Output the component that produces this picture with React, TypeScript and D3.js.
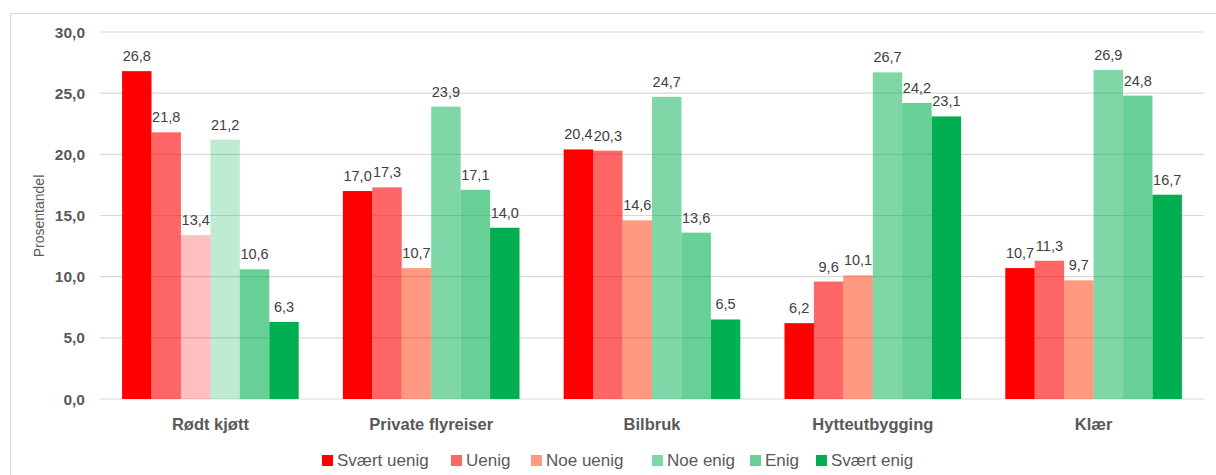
import React from "react";
import * as d3 from "d3";

const categories = ["Rødt kjøtt", "Private flyreiser", "Bilbruk", "Hytteutbygging", "Klær"];
const seriesNames = ["Svært uenig", "Uenig", "Noe uenig", "Noe enig", "Enig", "Svært enig"];
const svaertUenig = [26.8, 17.0, 20.4, 6.2, 10.7];
const uenig = [21.8, 17.3, 20.3, 9.6, 11.3];
const noeUenig = [13.4, 10.7, 14.6, 10.1, 9.7];
const noeEnig = [21.2, 23.9, 24.7, 26.7, 26.9];
const enig = [10.6, 17.1, 13.6, 24.2, 24.8];
const svaertEnig = [6.3, 14.0, 6.5, 23.1, 16.7];
const seriesValues = [svaertUenig, uenig, noeUenig, noeEnig, enig, svaertEnig];
const yTicks = [0, 5, 10, 15, 20, 25, 30];

// styles
const baseColors = ["#FF0000", "#FF0000", "#FF3300", "#00B050", "#00B050", "#00B050"];
const baseOpacity = [1, 0.6, 0.5, 0.5, 0.6, 1];
const firstCatColors = ["#FF0000", "#FF0000", "#FF0000", "#00B050", "#00B050", "#00B050"];
const firstCatOpacity = [1, 0.6, 0.25, 0.25, 0.6, 1];

const W = 1216;
const H = 475;
const FONT = "'Liberation Sans', Arial, sans-serif";

export default function App() {
  const x0 = d3.scaleBand<string>().domain(categories).range([100, 1204]).paddingInner(0.2).paddingOuter(0.1);
  const x1 = d3.scaleBand<string>().domain(seriesNames).range([0, x0.bandwidth()]).padding(0);
  const y = d3.scaleLinear().domain([0, 30]).range([399, 32]);
  const fmt = (v: number) => d3.format(".1f")(v).replace(".", ",");

  const legendX = [322, 451, 531, 652, 750, 816];

  return (
    <svg width={W} height={H} style={{ position: "absolute", left: 0, top: 0, background: "#fff" }} fontFamily={FONT}>
      <rect x={10.5} y={13.5} width={1220} height={480} fill="#fff" stroke="#D9D9D9" strokeWidth={1} />
      {yTicks.map((t) => (
        <g key={t}>
          <line x1={100} x2={1204} y1={y(t)} y2={y(t)} stroke="#D9D9D9" strokeWidth={1.2} />
          <text x={85} y={y(t) + 5.5} textAnchor="end" fontSize={15.5} fontWeight="bold" fill="#595959">
            {fmt(t)}
          </text>
        </g>
      ))}
      <text transform={`translate(44,216) rotate(-90)`} textAnchor="middle" fontSize={14} fill="#595959">
        Prosentandel
      </text>
      {categories.map((c, ci) => (
        <g key={c}>
          {seriesNames.map((s, si) => {
            const v = seriesValues[si][ci];
            const bx = (x0(c) as number) + (x1(s) as number);
            const bw = x1.bandwidth();
            const col = ci === 0 ? firstCatColors[si] : baseColors[si];
            const op = ci === 0 ? firstCatOpacity[si] : baseOpacity[si];
            return (
              <g key={s}>
                <rect x={bx} y={y(v)} width={bw} height={y(0) - y(v)} fill={col} fillOpacity={op} />
                <text x={bx + bw / 2} y={y(v) - 10} textAnchor="middle" fontSize={14.5} fill="#404040">
                  {fmt(v)}
                </text>
              </g>
            );
          })}
          <text x={(x0(c) as number) + x0.bandwidth() / 2} y={430} textAnchor="middle" fontSize={16.5} fontWeight="bold" fill="#595959">
            {c}
          </text>
        </g>
      ))}
      {seriesNames.map((s, si) => (
        <g key={s}>
          <rect x={legendX[si]} y={455} width={11} height={11} fill={baseColors[si]} fillOpacity={baseOpacity[si]} />
          <text x={legendX[si] + 15} y={466} fontSize={17} fill="#595959">
            {s}
          </text>
        </g>
      ))}
    </svg>
  );
}
